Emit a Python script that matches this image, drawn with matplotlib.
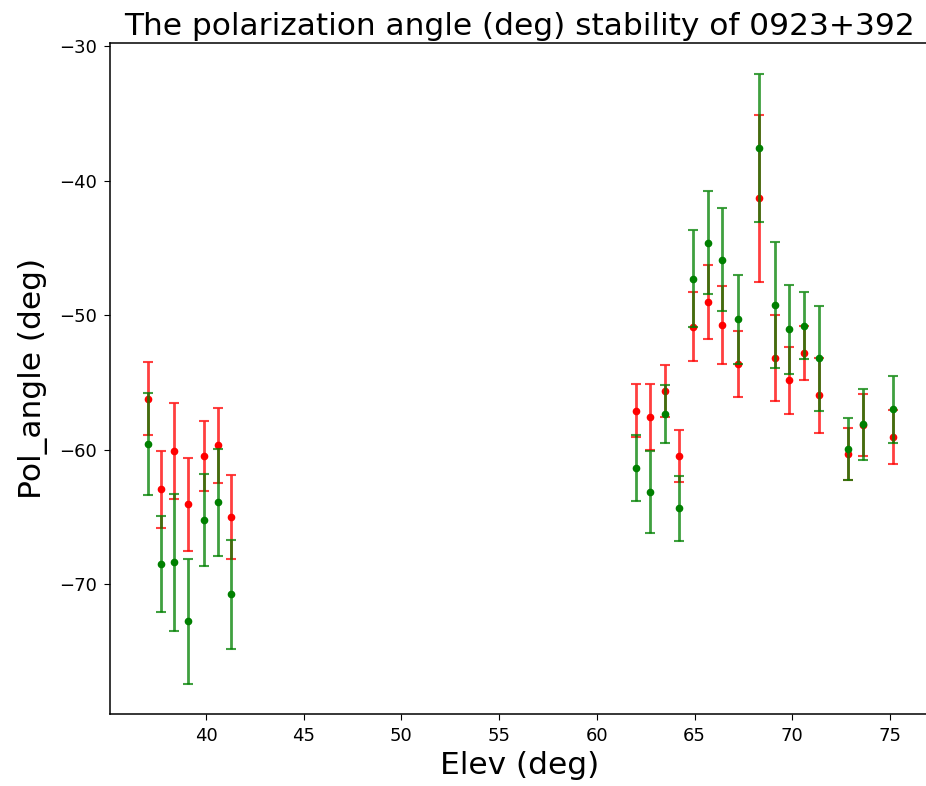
import matplotlib
matplotlib.use("Agg")
import matplotlib.pyplot as plt

elev = [37.02, 37.70, 38.38, 39.06, 39.91, 40.60, 41.30,
        61.99, 62.74, 63.47, 64.19, 64.92, 65.69, 66.42, 67.21, 68.32,
        69.10, 69.85, 70.62, 71.39, 72.84, 73.61, 75.16]

pa_red = [-56.19, -62.92, -60.07, -64.04, -60.45, -59.65, -64.98,
          -57.08, -57.57, -55.61, -60.45, -50.83, -49.00, -50.73, -53.60, -41.30,
          -53.14, -54.82, -52.77, -55.93, -60.30, -58.15, -59.03]
err_red = [2.7, 2.85, 3.56, 3.45, 2.63, 2.8, 3.13,
           1.96, 2.44, 1.95, 1.93, 2.55, 2.72, 2.9, 2.45, 6.2,
           3.2, 2.5, 2.0, 2.78, 1.9, 2.3, 2.0]

pa_green = [-59.55, -68.48, -68.35, -72.74, -65.20, -63.90, -70.73,
            -61.34, -63.10, -57.35, -64.34, -47.26, -44.58, -45.85, -50.28, -37.57,
            -49.22, -51.03, -50.76, -53.18, -59.95, -58.09, -56.97]
err_green = [3.8, 3.6, 5.1, 4.65, 3.4, 3.97, 4.07,
             2.46, 3.04, 2.15, 2.4, 3.62, 3.84, 3.82, 3.3, 5.5,
             4.7, 3.3, 2.5, 3.9, 2.3, 2.65, 2.48]

fig = plt.figure(figsize=(9.26, 7.86), dpi=100)
ax = fig.add_axes([110/926, 72/786, 820/926, 671/786])

for vals, errs, col in ((pa_red, err_red, 'r'), (pa_green, err_green, 'g')):
    _, caps, bars = ax.errorbar(elev, vals, yerr=errs, fmt='none', ecolor=col,
                                elinewidth=2, capsize=3.5, capthick=1.5)
    for c in caps:
        c.set_alpha(0.75)
    for b in bars:
        b.set_alpha(0.75)
    ax.plot(elev, vals, 'o', color=col, ms=4.5, ls='none')

ax.set_xlim(35.09, 77.05)
ax.set_ylim(-79.63, -29.74)
ax.set_xticks([40, 45, 50, 55, 60, 65, 70, 75])
ax.set_yticks([-70, -60, -50, -40, -30])
ax.tick_params(labelsize=13, length=4.5, pad=5)
for s in ax.spines.values():
    s.set_linewidth(1.1)
ax.set_xlabel('Elev (deg)', fontsize=22.5)
ax.set_ylabel('Pol_angle (deg)', fontsize=22.5, labelpad=8)
ax.set_title('The polarization angle (deg) stability of 0923+392', fontsize=22.5)

fig.savefig('out.png', dpi=100)
